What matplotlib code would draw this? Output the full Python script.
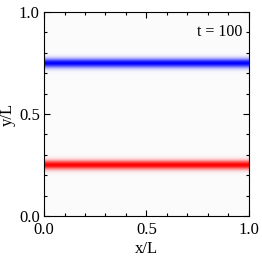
import numpy as np
import matplotlib.pyplot as plt
from matplotlib.ticker import MultipleLocator, FormatStrFormatter

plt.rcParams['font.family'] = ['Liberation Serif', 'DejaVu Serif']
plt.rcParams['mathtext.fontset'] = 'stix'

# interface positions (y/L) and colours of the two bands
band_pos = [0.75, 0.25]
band_col = [(0.0, 0.0, 1.0), (1.0, 0.0, 0.0)]
band_width = 0.022
time_label = 't = 100'
ticks = [0.0, 0.5, 1.0]

ny, nx = 400, 200
y = np.linspace(0, 1, ny)
bg = np.array([0.985, 0.985, 0.99])
img = np.ones((ny, nx, 3)) * bg
for pos, col in zip(band_pos, band_col):
    a = np.exp(-((y - pos) / band_width) ** 2)[:, None, None]
    img = img * (1 - a) + np.array(col) * a

fig = plt.figure(figsize=(2.62, 2.62), dpi=100)
ax = fig.add_axes([0.168, 0.176, 0.782, 0.778])
ax.imshow(img, origin='lower', extent=[0, 1, 0, 1], aspect='auto',
          interpolation='bilinear')
ax.set_xlim(0, 1)
ax.set_ylim(0, 1)

ax.set_xticks(ticks)
ax.set_yticks(ticks)
ax.xaxis.set_minor_locator(MultipleLocator(0.1))
ax.yaxis.set_minor_locator(MultipleLocator(0.1))
ax.xaxis.set_major_formatter(FormatStrFormatter('%.1f'))
ax.yaxis.set_major_formatter(FormatStrFormatter('%.1f'))
ax.tick_params(which='both', direction='in', top=True, right=True,
               labelsize=12, width=0.8)
ax.tick_params(which='major', length=4)
ax.tick_params(which='minor', length=2)
ax.tick_params(axis='x', pad=4.5)
ax.tick_params(axis='y', pad=3)
for s in ax.spines.values():
    s.set_linewidth(0.8)

ax.set_xlabel('x/L', fontsize=12, labelpad=2)
ax.set_ylabel('y/L', fontsize=12, labelpad=2)
ax.text(0.97, 0.9, time_label, transform=ax.transAxes, ha='right',
        va='center', fontsize=11.5)

fig.savefig('out.png', dpi=100)
